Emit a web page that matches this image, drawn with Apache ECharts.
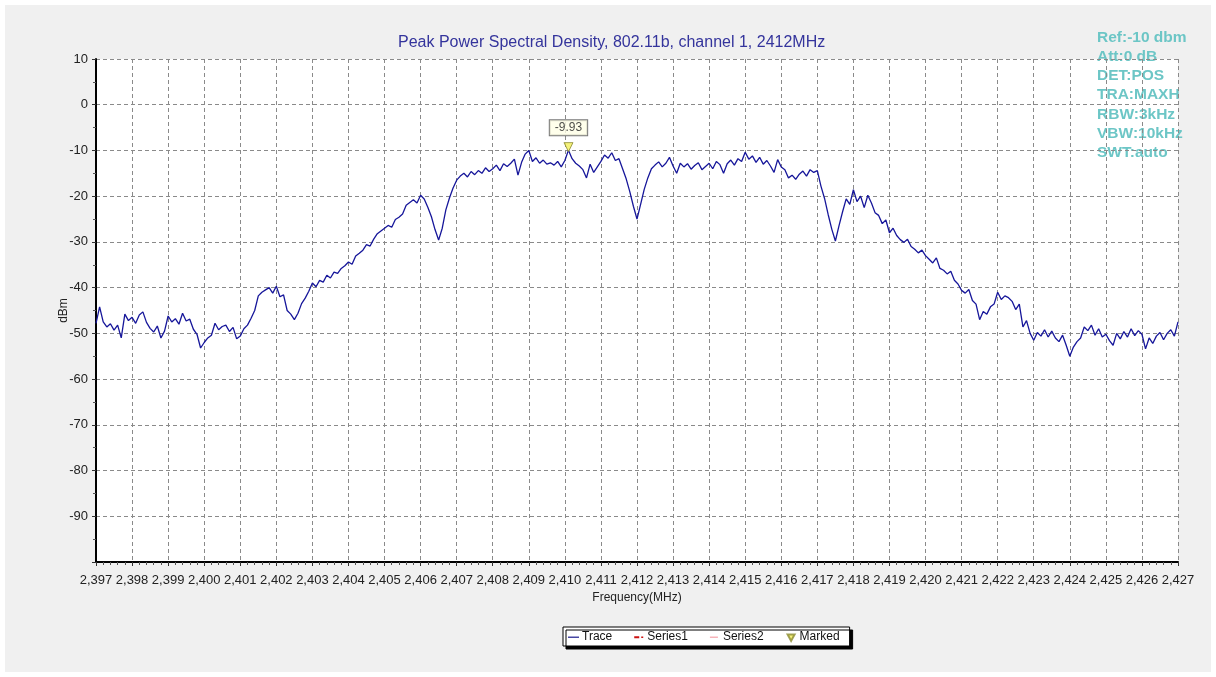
<!DOCTYPE html>
<html>
<head>
<meta charset="utf-8">
<script src="https://cdn.jsdelivr.net/npm/echarts@6/dist/echarts.min.js"></script>
<style>
  html, body { margin: 0; padding: 0; background: #ffffff; }
  #main { position: absolute; left: 5px; top: 5px; width: 1206px; height: 667px; background: #f0f0f0; }
</style>
</head>
<body>
<div id="main"></div>
<script>
// 频率轴: 2397 ~ 2427 MHz, 每 0.1 MHz 一个点
var freqStart = 2397;
var freqStep = 0.1;
var xTicks = [2397, 2427, 1];
var yTicks = [-100, 10, 10];

// 读图得到的 Trace 数据 (dBm)，每行 1 MHz
var traceValues = [
  -47.8, -44.2, -47.5, -48.6, -47.9, -49.3, -48.2, -51.0, -45.8, -47.2,
  -46.5, -47.8, -46.0, -45.3, -47.6, -48.9, -49.7, -48.4, -51.0, -49.5,
  -46.2, -47.5, -46.8, -48.0, -45.6, -47.3, -46.9, -49.1, -50.2, -53.2,
  -52.0, -51.0, -50.4, -47.8, -49.2, -48.5, -48.2, -49.6, -48.7, -51.2,
  -50.6, -49.0, -48.2, -46.7, -45.0, -41.8, -41.0, -40.5, -40.0, -41.2,
  -39.7, -42.0, -41.6, -45.0, -45.8, -47.0, -45.6, -43.5, -42.3, -40.8,
  -39.0, -39.8, -38.4, -38.8, -37.3, -37.9, -36.6, -36.9, -35.8, -35.2,
  -34.4, -34.9, -33.1, -32.5, -31.8, -30.6, -30.9, -29.4, -28.2, -27.6,
  -27.0, -26.4, -26.8, -25.1, -24.6, -23.9, -22.0, -21.4, -20.8, -21.5,
  -19.8, -20.6, -22.4, -24.5, -27.3, -29.6, -27.0, -23.0, -20.4, -18.2,
  -16.5, -15.6, -15.0, -15.8, -14.6, -15.3, -14.4, -15.0, -13.8, -14.6,
  -14.0, -13.2, -14.4, -12.9, -13.5, -12.8, -11.9, -15.4, -12.6, -10.8,
  -10.0, -12.4, -11.6, -12.8, -12.1, -13.0, -12.7, -13.2, -12.4, -13.6,
  -12.2, -9.93, -11.8, -12.8, -13.4, -14.2, -16.0, -13.0, -14.8, -13.6,
  -12.4, -11.0, -11.7, -10.5, -12.2, -11.8, -14.0, -16.2, -19.0, -22.2,
  -25.0, -21.8, -18.5, -16.0, -14.0, -13.2, -12.5, -13.6, -12.8, -11.5,
  -13.4, -15.0, -12.8, -13.6, -12.9, -14.1, -13.3, -12.7, -14.2, -13.5,
  -12.8, -14.0, -12.4, -13.1, -15.0, -12.9, -12.1, -13.2, -11.8, -12.4,
  -10.4, -11.9, -11.2, -12.6, -11.5, -13.0, -12.2, -13.4, -14.8, -12.0,
  -13.6, -14.2, -16.0, -15.4, -16.3, -15.2, -14.5, -15.6, -14.2, -14.8,
  -14.4, -17.8, -20.5, -24.0, -27.2, -29.8, -26.5, -23.4, -20.6, -21.8,
  -18.6, -21.2, -20.0, -22.5, -19.8, -21.5, -23.6, -24.2, -26.0, -25.2,
  -28.0, -27.0, -28.6, -29.5, -30.1, -29.4, -31.0, -31.6, -32.4, -31.8,
  -33.0, -33.8, -34.6, -33.5, -35.8, -36.2, -37.0, -36.4, -38.4, -39.2,
  -40.6, -41.2, -40.4, -42.8, -43.6, -47.0, -45.2, -45.8, -44.2, -43.6,
  -41.0, -42.6, -41.8, -42.2, -43.0, -44.8, -43.6, -48.6, -47.2, -50.0,
  -51.5, -49.8, -50.6, -49.2, -50.8, -49.5, -51.0, -51.8, -50.4, -52.6,
  -55.0, -53.0, -51.8, -51.0, -48.6, -49.4, -48.2, -50.4, -49.0, -50.8,
  -50.2, -51.6, -52.6, -50.0, -51.2, -49.6, -50.8, -49.0, -50.5, -49.4,
  -50.2, -53.4, -51.0, -52.2, -50.6, -49.8, -51.4, -50.0, -49.2, -50.6,
  -47.5
];

// 标记点
var markedPoint = [2410.1, -9.93];

// 右上角的仪器参数
var infoLines = ['Ref:-10 dbm', 'Att:0 dB', 'DET:POS', 'TRA:MAXH', 'RBW:3kHz', 'VBW:10kHz', 'SWT:auto'];

var font = 'Arial, "Liberation Sans", sans-serif';

// 组装成 [x, y]
var traceData = traceValues.map(function (v, i) {
  return [+(freqStart + i * freqStep).toFixed(1), v];
});

var myChart = echarts.init(document.getElementById('main'));

var option = {
  animation: false,
  backgroundColor: '#f0f0f0',
  title: {
    text: 'Peak Power Spectral Density, 802.11b, channel 1, 2412MHz',
    left: 388,
    top: 25,
    textStyle: { color: '#34349c', fontSize: 16, fontWeight: 'normal', fontFamily: font }
  },
  graphic: [{
    type: 'text',
    left: 1092,
    top: 23,
    style: {
      text: infoLines.join('\n'),
      fill: '#6cc6c6',
      font: 'bold 15.5px ' + font,
      lineHeight: 19.2
    }
  }],
  legend: {
    data: [
      { name: 'Trace', icon: 'path://M0,0M0,3.6h11v1.2H0zM11,8' },
      { name: 'Series1', icon: 'path://M0,0M1,3.2h5v2H1zM8,3.6h2v1.4H8zM11,8' },
      { name: 'Series2', icon: 'path://M0,0M1,3.6h8v1.2H1zM11,8' },
      { name: 'Marked', icon: 'path://M0,0M2,1.5h7L5.5,8zM11,8' }
    ],
    left: 558,
    top: 622,
    itemWidth: 11,
    itemHeight: 8,
    itemGap: 21,
    padding: [4, 10, 3, 5],
    backgroundColor: '#ffffff',
    borderColor: '#000000',
    borderWidth: 1,
    borderRadius: 0,
    shadowColor: '#000000',
    shadowOffsetX: 3,
    shadowOffsetY: 3,
    shadowBlur: 0,
    textStyle: { color: '#111', fontSize: 12, fontFamily: font, padding: [0, 0, 0, -2] }
  },
  grid: {
    left: 91,
    top: 54,
    right: 33,
    bottom: 110,
    show: true,
    backgroundColor: '#ffffff',
    borderWidth: 0
  },
  xAxis: {
    type: 'value',
    min: xTicks[0],
    max: xTicks[1],
    interval: xTicks[2],
    name: 'Frequency(MHz)',
    nameLocation: 'middle',
    nameGap: 28,
    nameTextStyle: { color: '#222', fontSize: 12, fontFamily: font },
    axisLine: { show: true, onZero: false, lineStyle: { color: '#000', width: 2 } },
    axisTick: { show: true, length: 4, lineStyle: { color: '#333' } },
    minorTick: { show: true, splitNumber: 5, length: 3, lineStyle: { color: '#555' } },
    axisLabel: {
      color: '#222',
      fontSize: 13,
      fontFamily: font,
      margin: 12,
      formatter: function (v) { return echarts.format.addCommas(v); }
    },
    splitLine: { show: true, lineStyle: { color: '#8a8a8a', type: [4, 3], width: 1 } }
  },
  yAxis: {
    type: 'value',
    min: yTicks[0],
    max: yTicks[1],
    interval: yTicks[2],
    name: 'dBm',
    nameLocation: 'middle',
    nameGap: 26,
    nameMoveOverlap: false,
    nameTextStyle: { color: '#222', fontSize: 12, fontFamily: font },
    axisLine: { show: true, onZero: false, lineStyle: { color: '#000', width: 2 } },
    axisTick: { show: true, length: 4, lineStyle: { color: '#333' } },
    minorTick: { show: true, splitNumber: 2, length: 3, lineStyle: { color: '#555' } },
    axisLabel: {
      color: '#222',
      fontSize: 13,
      fontFamily: font,
      margin: 8,
      formatter: function (v) { return v === yTicks[0] ? '' : v; }
    },
    splitLine: { show: true, lineStyle: { color: '#8a8a8a', type: [4, 3], width: 1 } }
  },
  series: [
    {
      name: 'Trace',
      type: 'line',
      data: traceData,
      showSymbol: false,
      color: '#1a1a8c',
      lineStyle: { color: '#16169a', width: 1.3 }
    },
    { name: 'Series1', type: 'line', data: [], color: '#cc1111', lineStyle: { type: 'dashed' } },
    { name: 'Series2', type: 'line', data: [], color: '#f4a0a8' },
    {
      name: 'Marked',
      type: 'scatter',
      data: [markedPoint],
      symbol: 'triangle',
      symbolRotate: 180,
      symbolSize: 9,
      symbolOffset: [0, -3],
      color: '#2b2b2b',
      itemStyle: { color: '#f2ef5a', borderColor: '#8a8a30', borderWidth: 1 },
      label: {
        show: true,
        position: 'top',
        distance: 7,
        formatter: function (p) { return p.value[1].toFixed(2); },
        color: '#222',
        fontSize: 12,
        fontFamily: font,
        backgroundColor: '#ffffe6',
        borderColor: '#555',
        borderWidth: 1,
        padding: [2, 5, 1, 5]
      },
      z: 5
    }
  ]
};

myChart.setOption(option);
</script>
</body>
</html>
